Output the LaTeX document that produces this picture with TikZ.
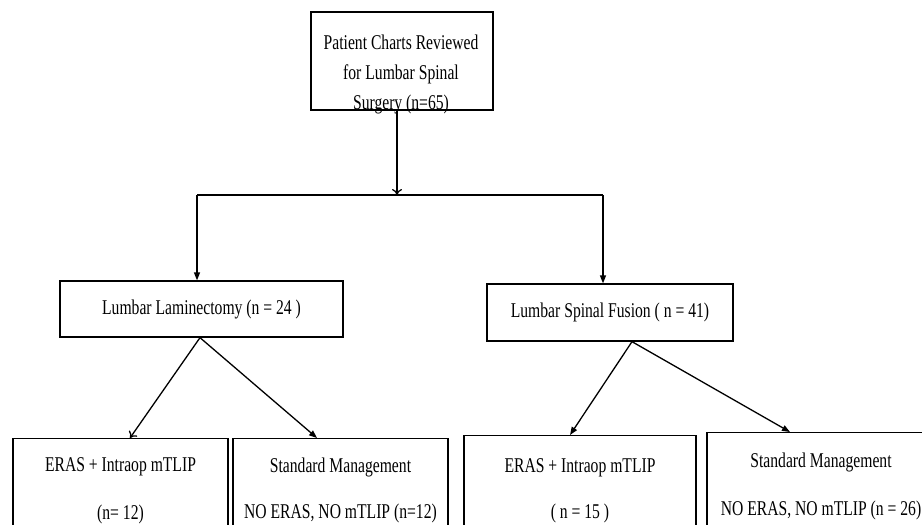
\documentclass[tikz,border=0pt]{standalone}
\usepackage{fontspec}
\setmainfont[FakeStretch=0.745]{Liberation Serif}
\usetikzlibrary{arrows.meta}
\begin{document}
\begin{tikzpicture}[x=1pt, y=-1pt, line width=1.3pt,
  every node/.style = {font=\fontsize{21}{24}\selectfont, align=center},
  box/.style = {shape=rectangle, draw, inner sep=0pt},
  group/.style = {box, anchor=north, minimum height=104pt},
  link/.style = {-{Triangle[length=8pt,width=6pt]}},
  openlink/.style = {-{To[length=6pt,width=10pt]}}]
  \clip (0,0) rectangle (922,525);
  \fill[white] (0,0) rectangle (922,525);
  % reviewed charts
  \node[box, minimum width=182pt, minimum height=98pt] (charts) at (402,61) {};
  \node[font=\fontsize{21}{30}\selectfont] (chartstext) at (401,74)
    {Patient Charts Reviewed\\for Lumbar Spinal\\Surgery (n=65)};
  % surgery type
  \node[box, minimum width=283pt, minimum height=56pt] (lam) at (201.5,309) {Lumbar Laminectomy (n = 24 )};
  \node[box, minimum width=246pt, minimum height=57pt] (fus) at (610,312.5) {Lumbar Spinal Fusion ( n = 41)};
  % management groups
  \node[group, minimum width=215pt] (erasA) at (120.5,438) {ERAS + Intraop mTLIP\\[24pt](n= 12)};
  \node[group, minimum width=215pt] (stdA) at (340.5,438) {Standard Management\\[22pt]NO ERAS, NO mTLIP (n=12)};
  \node[group, minimum width=232pt, minimum height=110pt] (erasB) at (580,435) {ERAS + Intraop mTLIP\\[22pt]( n = 15 )};
  \node[group, minimum width=228pt, minimum height=108pt] (stdB) at (821,432) {Standard Management\\[24pt]NO ERAS, NO mTLIP (n = 26)};
  % connectors
  \coordinate (split) at (397,195);
  \coordinate (splitL) at (197,195);
  \coordinate (splitR) at (603,195);
  \draw[openlink] (charts.south -| split) -- (split);
  \draw (splitL) -- (splitR);
  \draw[link] (splitL) -- (splitL |- lam.north);
  \draw[link] (splitR) -- (splitR |- fus.north);
  \draw[openlink] ([xshift=-1.5pt]lam.south) -- ([xshift=9.5pt]erasA.north);
  \draw[link] ([xshift=-1.5pt]lam.south) -- ([xshift=-23.5pt]stdA.north);
  \draw[link] ([xshift=22pt]fus.south) -- ([xshift=-10pt]erasB.north);
  \draw[link] ([xshift=22pt]fus.south) -- ([xshift=-31pt]stdB.north);
\end{tikzpicture}
\end{document}
